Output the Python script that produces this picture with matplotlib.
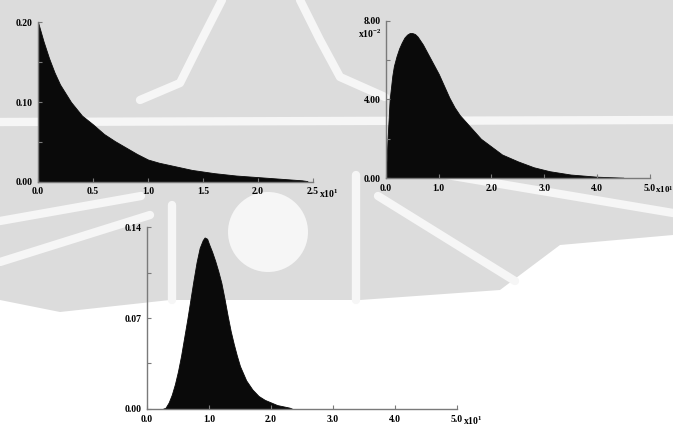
# Three density plots, filled black, on a faint watermark background
import matplotlib.pyplot as plt
from matplotlib.patches import Polygon, Circle

plt.rcParams['font.family'] = ['Liberation Serif', 'DejaVu Serif']
plt.rcParams['mathtext.fontset'] = 'custom'
plt.rcParams['mathtext.rm'] = 'Liberation Serif:bold'
plt.rcParams['mathtext.default'] = 'rm'

# Data
x_exp = [0, 0.5, 1, 1.5, 2, 3, 4, 5, 6, 7, 8, 9, 10, 11, 12, 13, 14, 15, 16, 17, 18, 19, 20, 21, 22, 23, 24, 24.5]
y_exp = [0.200, 0.176, 0.155, 0.137, 0.122, 0.100, 0.083, 0.072, 0.060, 0.051, 0.043, 0.035, 0.028, 0.024,
         0.021, 0.018, 0.015, 0.013, 0.011, 0.0095, 0.008, 0.007, 0.006, 0.005, 0.004, 0.003, 0.002, 0.001]

x_skew = [0, 0.1, 0.3, 0.7, 1.2, 1.5, 2, 2.5, 3, 3.5, 4, 4.5, 5, 5.5, 6, 7, 8, 9, 10, 11, 12, 13, 14, 15,
          16, 17, 18, 20, 22, 25, 28, 31, 35, 40, 45]
y_skew = [0.0, 0.008, 0.020, 0.040, 0.052, 0.057, 0.062, 0.066, 0.069, 0.0715, 0.073, 0.0738, 0.0738,
          0.0733, 0.072, 0.068, 0.063, 0.058, 0.053, 0.047, 0.041, 0.036, 0.032, 0.029, 0.026, 0.023,
          0.020, 0.016, 0.012, 0.0085, 0.0055, 0.0035, 0.0018, 0.0007, 0.0002]

x_bell = [2.5, 3, 3.5, 4, 4.5, 5, 5.5, 6, 6.5, 7, 7.5, 8, 8.5, 9, 9.3, 9.7, 10, 10.5, 11, 11.5, 12, 12.5,
          13, 13.5, 14, 14.5, 15, 16, 17, 18, 19, 20, 21, 22, 23, 23.5]
y_bell = [0.0, 0.001, 0.005, 0.011, 0.019, 0.029, 0.041, 0.055, 0.069, 0.084, 0.099, 0.113, 0.124, 0.130,
          0.132, 0.131, 0.127, 0.121, 0.114, 0.106, 0.097, 0.085, 0.072, 0.060, 0.050, 0.041, 0.033, 0.022,
          0.015, 0.010, 0.007, 0.005, 0.003, 0.002, 0.001, 0.0]

fig = plt.figure(figsize=(6.73, 4.26), dpi=100)

# rough watermark behind everything (pixel coordinates)
bg = fig.add_axes([0, 0, 1, 1], zorder=-5)
bg.set_xlim(0, 673)
bg.set_ylim(426, 0)
bg.axis('off')
gray = '#dcdcdc'
bg.add_patch(Polygon([(0, 0), (673, 0), (673, 235), (560, 245), (500, 290), (360, 300),
                      (170, 300), (60, 312), (0, 300)], closed=True, fc=gray, ec='none'))
bands = [
    [(0, 122), (673, 120)],
    [(140, 100), (180, 83), (200, 43), (222, 0)],
    [(300, 0), (320, 40), (340, 77), (385, 97)],
    [(0, 221), (141, 196)],
    [(0, 262), (150, 215)],
    [(378, 196), (515, 281)],
    [(429, 172), (673, 213)],
    [(172, 205), (172, 300)],
    [(356, 175), (356, 300)],
]
for b in bands:
    bg.plot([p[0] for p in b], [p[1] for p in b], color='#f6f6f6', lw=6, solid_capstyle='round')
bg.add_patch(Circle((268, 232), 40, fc='#f6f6f6', ec='none'))


def style(ax, xs, ys, xmax, ymax, xticks, xlabels, yticks, ylabels, yminor):
    ax.fill_between(xs, ys, 0, color='#0a0a0a', lw=0.6)
    ax.set_xlim(0, xmax)
    ax.set_ylim(0, ymax)
    for s in ['top', 'right']:
        ax.spines[s].set_visible(False)
    for s in ['left', 'bottom']:
        ax.spines[s].set_color('#7a7a7a')
        ax.spines[s].set_linewidth(1.0)
    ax.set_xticks(xticks)
    ax.set_xticklabels(xlabels)
    ax.set_yticks(yticks)
    ax.set_yticklabels(ylabels)
    ax.set_yticks(yminor, minor=True)
    ax.tick_params(direction='in', length=3, width=0.8, color='#7a7a7a',
                   labelsize=7, pad=4)
    ax.tick_params(which='minor', direction='in', length=3, width=0.8, color='#7a7a7a')
    for t in ax.get_xticklabels() + ax.get_yticklabels():
        t.set_fontweight('bold')
    ax.patch.set_alpha(0)


def power(ax, x, y, text, dx, dy, size=7, ha='left'):
    ax.annotate(text, xy=(x, y), xytext=(dx, dy), textcoords='offset points',
                fontsize=size, fontweight='bold', ha=ha, va='center')


# top left
ax1 = fig.add_axes([0.0565, 0.573, 0.4085, 0.375])
style(ax1, x_exp, y_exp, 25, 0.20, [0, 5, 10, 15, 20, 25], ['0.0', '0.5', '1.0', '1.5', '2.0', '2.5'],
      [0, 0.10, 0.20], ['0.00', '0.10', '0.20'], [0.05, 0.15])
power(ax1, 25, 0, r'x10$^{1}$', 4.5, -8.5)

# top right
ax2 = fig.add_axes([0.5735, 0.582, 0.392, 0.369])
style(ax2, x_skew, y_skew, 50, 0.08, [0, 10, 20, 30, 40, 50], ['0.0', '1.0', '2.0', '3.0', '4.0', '5.0'],
      [0, 0.04, 0.08], ['0.00', '4.00', '8.00'], [0.02, 0.06])
power(ax2, 50, 0, r'x10$^{1}$', 4, -8.5, size=6.5)
power(ax2, 0, 0.08, r'x10$^{-2}$', -3, -9.5, ha='right')

# bottom
ax3 = fig.add_axes([0.2184, 0.040, 0.4606, 0.427])
style(ax3, x_bell, y_bell, 50, 0.14, [0, 10, 20, 30, 40, 50], ['0.0', '1.0', '2.0', '3.0', '4.0', '5.0'],
      [0, 0.07, 0.14], ['0.00', '0.07', '0.14'], [0.035, 0.105])
power(ax3, 50, 0, r'x10$^{1}$', 4.5, -8.5)

plt.savefig('out.png', dpi=100)
